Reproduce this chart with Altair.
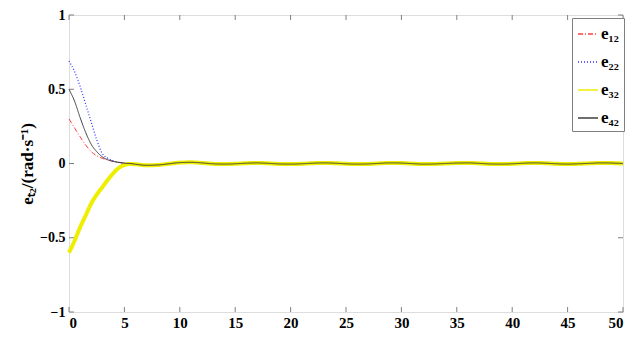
import altair as alt
import pandas as pd

# time grid
t_head = [0, 0.5, 1, 1.5, 2, 2.5, 3, 3.5, 4, 4.5, 5, 5.5]
t_tail = list(range(6, 51))

e12_head = [0.30, 0.24, 0.18, 0.125, 0.08, 0.052, 0.035, 0.024, 0.015, 0.008, 0.003, 0.0]
e22_head = [0.69, 0.62, 0.52, 0.40, 0.28, 0.16, 0.068, 0.035, 0.018, 0.008, 0.003, 0.0]
e32_head = [-0.60, -0.52, -0.43, -0.35, -0.27, -0.21, -0.16, -0.11, -0.065, -0.03, -0.01, -0.003]
e42_head = [0.50, 0.42, 0.31, 0.21, 0.13, 0.08, 0.045, 0.025, 0.014, 0.007, 0.002, 0.0]

tail = [-0.005, -0.012, -0.010, -0.002, 0.006, 0.008, 0.004, -0.002, -0.004, -0.002,
        0.002, 0.004, 0.001, -0.003, -0.004, -0.002, 0.002, 0.004, 0.002, -0.002,
        -0.004, -0.003, 0.001, 0.004, 0.003, -0.001, -0.004, -0.003, 0.000, 0.003,
        0.004, 0.001, -0.003, -0.004, -0.002, 0.002, 0.004, 0.002, -0.002, -0.004,
        -0.002, 0.001, 0.004, 0.003, 0.000]

series_names = ["e₁₂", "e₂₂", "e₃₂", "e₄₂"]
series_heads = [e12_head, e22_head, e32_head, e42_head]
series_colors = ["#ff4040", "#3030ff", "#eeee00", "#404040"]
series_dash = [[5, 2, 1, 2], [1, 2], [1, 0], [1, 0]]
series_width = [1, 1.2, 4, 1]

x_ticks = [0, 5, 10, 15, 20, 25, 30, 35, 40, 45, 50]
y_ticks = [-1, -0.5, 0, 0.5, 1]

rows = []
for name, head in zip(series_names, series_heads):
    for t, v in zip(t_head + t_tail, head + tail):
        rows.append({"t": t, "v": v, "s": name})
df = pd.DataFrame(rows)

W, H = 554, 297
font = "Liberation Serif"

xs = alt.Scale(domain=[0, 50], nice=False)
ys = alt.Scale(domain=[-1, 1], nice=False)
cs = alt.Scale(domain=series_names, range=series_colors)
ds = alt.Scale(domain=series_names, range=series_dash)

x_enc = alt.X("t:Q", scale=xs,
              axis=alt.Axis(values=x_ticks, ticks=False, domain=False, grid=False, title=None,
                            labelFont=font, labelFontWeight="bold", labelFontSize=15,
                            labelColor="black", labelPadding=3, format="d"))
y_enc = alt.Y("v:Q", scale=ys,
              axis=alt.Axis(values=y_ticks, ticks=False, domain=False, grid=False,
                            title="eₜ₂/(rad·s⁻¹)", titleFont=font, titleFontWeight="bold",
                            titleFontSize=17, titleColor="black", titlePadding=3,
                            labelFont=font, labelFontWeight="bold", labelFontSize=14,
                            labelColor="black", labelPadding=4,
                            labelExpr="datum.value == 0 ? '0' : format(datum.value, '.2~f')"))
legend = alt.Legend(title=None, orient="none", legendX=503, legendY=3,
                    symbolType="stroke", symbolSize=400, symbolStrokeWidth=1.4,
                    labelFont=font, labelFontWeight="bold", labelFontSize=17,
                    rowPadding=9, padding=5, strokeColor="#808080",
                    fillColor="white", labelOffset=2)

layers = []
for i, (name, w, col, dash) in enumerate(zip(series_names, series_width, series_colors, series_dash)):
    base = alt.Chart(df).transform_filter(alt.datum.s == name).mark_line(
        interpolate="monotone", strokeWidth=w)
    if i == 0:
        layers.append(base.encode(x=x_enc, y=y_enc,
                                  color=alt.Color("s:N", scale=cs, legend=legend),
                                  strokeDash=alt.StrokeDash("s:N", scale=ds, legend=legend),
                                  order=alt.Order("t:Q")))
    else:
        layers.append(base.encode(x=x_enc, y=y_enc,
                                  color=alt.value(col),
                                  strokeDash=alt.value(dash),
                                  order=alt.Order("t:Q")))

tx = pd.DataFrame({"t": x_ticks})
ty = pd.DataFrame({"v": y_ticks})
tick_color = "#808080"
bt = alt.Chart(tx).mark_rule(color=tick_color).encode(x=alt.X("t:Q", scale=xs), y=alt.value(H), y2=alt.value(H - 5))
tt = alt.Chart(tx).mark_rule(color=tick_color).encode(x=alt.X("t:Q", scale=xs), y=alt.value(0), y2=alt.value(5))
lt = alt.Chart(ty).mark_rule(color=tick_color).encode(y=alt.Y("v:Q", scale=ys), x=alt.value(0), x2=alt.value(5))
rt = alt.Chart(ty).mark_rule(color=tick_color).encode(y=alt.Y("v:Q", scale=ys), x=alt.value(W), x2=alt.value(W - 5))

chart = alt.layer(bt, tt, lt, rt, *layers).properties(
    width=W, height=H,
    autosize=alt.AutoSizeParams(type="none"),
    padding={"left": 61, "top": 7, "right": 10, "bottom": 20},
).configure_view(stroke="#808080", strokeWidth=1.5).configure(background="white")

chart.save("out.html", embed_options={"renderer": "svg", "actions": False})
